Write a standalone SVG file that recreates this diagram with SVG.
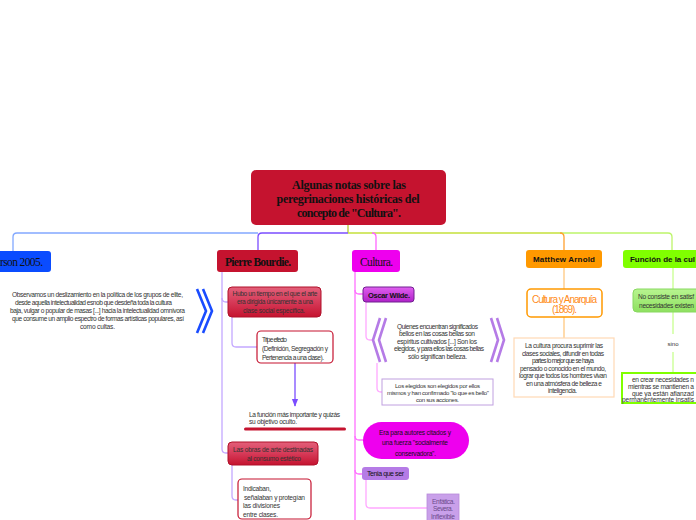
<svg xmlns="http://www.w3.org/2000/svg" width="696" height="520" viewBox="0 0 696 520">
<defs>
<style>
.t{font-family:"Liberation Sans",Arial,sans-serif;font-size:6.6px;fill:#333}
.m{text-anchor:middle}
.s{font-family:"Liberation Serif","DejaVu Serif",serif;fill:#111}
.b{font-family:"Liberation Sans",Arial,sans-serif;font-weight:bold;font-size:8px;fill:#111}
.c{fill:none;stroke-width:1.3}
.chev{fill:none;stroke-width:2.6;stroke-linejoin:miter}
</style>
<linearGradient id="gRed" x1="0" y1="0" x2="0" y2="1">
<stop offset="0" stop-color="#e3607a"/><stop offset="0.5" stop-color="#d63a58"/><stop offset="1" stop-color="#c5132f"/>
</linearGradient>
<linearGradient id="gPur" x1="0" y1="0" x2="0" y2="1">
<stop offset="0" stop-color="#e060f0"/><stop offset="1" stop-color="#b020c8"/>
</linearGradient>
<linearGradient id="gGrn" x1="0" y1="0" x2="0" y2="1">
<stop offset="0" stop-color="#b8f590"/><stop offset="1" stop-color="#8ee060"/>
</linearGradient>
<marker id="arr" viewBox="0 0 10 10" refX="9" refY="5" markerWidth="6" markerHeight="6" orient="auto">
<path d="M0,1 L10,5 L0,9 z" fill="#7b4dff"/>
</marker>
</defs>
<rect width="696" height="520" fill="#ffffff"/>

<g id="connectors">
<path class="c" d="M348,225 V233" stroke="#b5c830"/>
<path class="c" d="M258,233 H17 Q13,233 13,237 V251" stroke="#82a8ff"/>
<path class="c" d="M348,233 H262 Q258,233 258,237 V250" stroke="#7b4dff"/>
<path class="c" d="M348,233 H562" stroke="#c5e03a"/>
<path class="c" d="M560,233 H668 Q672,233 672,237 V250" stroke="#bdf56a"/>
<path class="c" d="M372,233 Q376,233 376,237 V250" stroke="#ff66ff"/>
<path class="c" d="M560,233 Q564,233 564,237 V250" stroke="#ffa030"/>

<path class="c" d="M222,272 V449 Q222,453 226,453 H228" stroke="#c4a8ff"/>
<path class="c" d="M222,298 Q222,302 226,302 H228" stroke="#c4a8ff"/>
<path class="c" d="M232,317 V343 Q232,347 236,347 H257" stroke="#c4a8ff"/>
<path class="c" d="M295,363 V406" stroke="#7b4dff" marker-end="url(#arr)"/>
<path class="c" d="M232,465 V496 Q232,500 236,500 H238" stroke="#c4a8ff"/>

<path class="c" d="M355,272 V520" stroke="#ff70ff"/>
<path class="c" d="M355,290 Q355,294 359,294 H363" stroke="#ff70ff"/>
<path class="c" d="M355,436 Q355,440 359,440 H363" stroke="#ff70ff"/>
<path class="c" d="M355,470 Q355,474 359,474 H362" stroke="#ff70ff"/>
<path class="c" d="M366,302 V336 Q366,340 370,340 H373" stroke="#ffa8ff"/>
<path class="c" d="M377,363 V388 Q377,392 381,392 H382" stroke="#ffa8ff"/>
<path class="c" d="M366,480 V504 Q366,508 370,508 H427" stroke="#ffa8ff"/>

<path class="c" d="M564,268 V289 M564,317 V338" stroke="#ffc880"/>
<path class="c" d="M673,268 V289 M673,312 V334 M673,352 V373" stroke="#c8ff90"/>
</g>

<g id="root">
<rect x="251" y="170" width="195" height="55" rx="5" fill="#c5132f"/>
<text class="s m" style="font-size:12px;font-weight:bold" x="349" y="189" textLength="114">Algunas notas sobre las</text>
<text class="s m" style="font-size:12px;font-weight:bold" x="348" y="203" textLength="143">peregrinaciones históricas del</text>
<text class="s m" style="font-size:12px;font-weight:bold" x="349" y="217" textLength="104">concepto de "Cultura".</text>
</g>

<g id="n-left">
<rect x="-10" y="251" width="61" height="21" rx="3" fill="#0a4cff"/>
<text class="s" style="font-size:11.5px" x="0" y="266" textLength="43">rson 2005.</text>
</g>
<g id="n-left-text">
<text class="t m" x="97.5" y="297" textLength="171">Observamos un deslizamiento en la política de los grupos de elite,</text>
<text class="t m" x="93.5" y="305" textLength="157">desde aquella intelectualidad esnob que desdeña toda la cultura</text>
<text class="t m" x="97.5" y="313" textLength="175">baja, vulgar o popular de masas [...] hacia la intelectualidad omnívora</text>
<text class="t m" x="98" y="321" textLength="172">que consume un amplio espectro de formas artísticas populares, así</text>
<text class="t m" x="97.5" y="329" textLength="35">como cultas.</text>
</g>
<g id="n-left-chev">
<path class="chev" d="M197,289 L206,311 L197,333" stroke="#1a4cff"/>
<path class="chev" d="M203,289 L212,311 L203,333" stroke="#1a4cff"/>
</g>

<g id="n-bourdie">
<rect x="217" y="250" width="81" height="22" rx="3" fill="#c5132f"/>
<text class="s" style="font-size:11.5px;font-weight:bold" x="225" y="266" textLength="66">Pierre Bourdie.</text>
</g>
<g id="n-hubo">
<rect x="228" y="287" width="93" height="30" rx="4" fill="url(#gRed)" stroke="#b0102a" stroke-width="1"/>
<text class="t m" x="275" y="295.5" textLength="85">Hubo un tiempo en el que el arte</text>
<text class="t m" x="275" y="304" textLength="76">era dirigida únicamente a una</text>
<text class="t m" x="274" y="312.5" textLength="62">clase social específica.</text>
</g>
<g id="n-tripe">
<rect x="257" y="331" width="76" height="32" rx="4" fill="#ffffff" stroke="#c5132f" stroke-width="1.2"/>
<text class="t" x="262" y="341.5" textLength="25">Tripe efecto</text>
<text class="t" x="262" y="350.5" textLength="66">(Definición, Segregación y</text>
<text class="t" x="262" y="359.5" textLength="62">Pertenencia a una clase).</text>
</g>
<g id="n-funcion">
<text class="t" x="249" y="416.5" textLength="91">La función más importante y quizás</text>
<text class="t" x="249" y="424" textLength="48">su objetivo oculto.</text>
<rect x="244" y="427.5" width="102" height="3" rx="1.5" fill="#c5132f"/>
</g>
<g id="n-obras">
<rect x="228" y="442" width="90" height="23" rx="4" fill="url(#gRed)" stroke="#b0102a" stroke-width="1"/>
<text class="t m" x="273" y="452" textLength="80">Las obras de arte destinadas</text>
<text class="t m" x="274" y="460.5" textLength="54">al consumo estético</text>
</g>
<g id="n-indicaban">
<rect x="238" y="479" width="73" height="40" rx="4" fill="#ffffff" stroke="#c5132f" stroke-width="1.2"/>
<text class="t" x="243" y="490.5" textLength="28">Indicaban,</text>
<text class="t" x="244" y="499.5" textLength="61">señalaban y protegían</text>
<text class="t" x="243" y="508" textLength="37">las divisiones</text>
<text class="t" x="243" y="516.5" textLength="35">entre clases.</text>
</g>

<g id="n-cultura">
<rect x="352" y="250" width="48" height="22" rx="3" fill="#ee00ee"/>
<text class="s" style="font-size:11.5px" x="360" y="266" textLength="33">Cultura.</text>
</g>
<g id="n-wilde">
<rect x="363" y="287" width="51" height="15" rx="3" fill="url(#gPur)" stroke="#702090" stroke-width="1"/>
<text class="b" style="font-size:7.5px" x="368" y="297.5" textLength="42">Oscar Wilde.</text>
</g>
<g id="n-quote">
<path class="chev" d="M380,318 L373,340 L380,362" stroke="#b57be6"/>
<path class="chev" d="M386,318 L379,340 L386,362" stroke="#b57be6"/>
<path class="chev" d="M491,318 L498,340 L491,362" stroke="#b57be6"/>
<path class="chev" d="M497,318 L504,340 L497,362" stroke="#b57be6"/>
<text class="t m" x="437.5" y="328.5" textLength="81">Quienes encuentran significados</text>
<text class="t m" x="437" y="336" textLength="76">bellos en las cosas bellas son</text>
<text class="t m" x="437" y="343.5" textLength="80">espíritus cultivados [...] Son los</text>
<text class="t m" x="439" y="351" textLength="90">elegidos, y para ellos las cosas bellas</text>
<text class="t m" x="437.5" y="358.5" textLength="59">sólo significan belleza.</text>
</g>
<g id="n-elegidos">
<rect x="382" y="379" width="111" height="26" fill="#ffffff" stroke="#c0a0e0" stroke-width="1"/>
<text class="t m" style="font-size:6px" x="437.5" y="388" textLength="85">Los elegidos son elegidos por ellos</text>
<text class="t m" style="font-size:6px" x="438" y="395" textLength="102">mismos y han confirmado "lo que es bello"</text>
<text class="t m" style="font-size:6px" x="437.5" y="402" textLength="43">con sus acciones.</text>
</g>
<g id="n-era">
<rect x="363" y="422" width="106" height="37" rx="18.5" fill="#ee00ee"/>
<text class="t m" style="fill:#111" x="415" y="434.5" textLength="72">Era para autores citados y</text>
<text class="t m" style="fill:#111" x="415" y="444.5" textLength="66">una fuerza "socialmente</text>
<text class="t m" style="fill:#111" x="415.5" y="455.5" textLength="41">conservadora".</text>
</g>
<g id="n-tenia">
<rect x="362" y="467" width="47" height="13" rx="3" fill="#b57be6"/>
<text class="t" style="fill:#111;font-size:7px" x="367" y="475.5" textLength="37">Tenia que ser</text>
</g>
<g id="n-enfatica">
<rect x="427" y="494" width="32" height="30" fill="#c9a0ea" stroke="#b88ada" stroke-width="0.8"/>
<text class="t m" style="fill:#6a4a8a" x="443.5" y="503.5" textLength="23">Enfática.</text>
<text class="t m" style="fill:#6a4a8a" x="443" y="510.5" textLength="20">Severa.</text>
<text class="t m" style="fill:#6a4a8a" x="443" y="518.5" textLength="24">Inflexible</text>
</g>

<g id="n-arnold">
<rect x="526" y="250" width="76" height="18" rx="3" fill="#ff9900"/>
<text class="b" x="533" y="262" textLength="62">Matthew Arnold</text>
</g>
<g id="n-anarquia">
<rect x="527" y="289" width="75" height="28" rx="4" fill="#ffffff" stroke="#ff9900" stroke-width="1.5"/>
<text class="t m" style="font-size:10px;fill:#ff8c1a" x="564.5" y="302.5" textLength="65">Cultura y Anarquía</text>
<text class="t m" style="font-size:10px;fill:#ff8c1a" x="564.5" y="313" textLength="25">(1869).</text>
</g>
<g id="n-arnold-text">
<rect x="514" y="338" width="100" height="59" fill="#ffffff" stroke="#ffd9b5" stroke-width="1.2"/>
<text class="t m" x="564" y="348" textLength="78">La cultura procura suprimir las</text>
<text class="t m" x="563" y="355.5" textLength="82">clases sociales, difundir en todas</text>
<text class="t m" x="563" y="363" textLength="62">partes lo mejor que se haya</text>
<text class="t m" x="563" y="370.5" textLength="86">pensado o conocido en el mundo,</text>
<text class="t m" x="563" y="378" textLength="88">lograr que todos los hombres vivan</text>
<text class="t m" x="564" y="385.5" textLength="76">en una atmósfera de belleza e</text>
<text class="t m" x="562.5" y="393" textLength="29">inteligencia.</text>
</g>

<g id="n-funcion-cultura">
<rect x="623" y="250" width="85" height="18" rx="3" fill="#80ff00"/>
<text class="b" x="630" y="262" textLength="65">Función de la cul</text>
</g>
<g id="n-noconsiste">
<rect x="633" y="289" width="70" height="23" rx="4" fill="url(#gGrn)" stroke="#88d860" stroke-width="1"/>
<text class="t" x="638" y="299" textLength="56">No consiste en satisf</text>
<text class="t" x="639" y="308" textLength="55">necesidades existen</text>
</g>
<g id="n-sino">
<text class="t m" style="font-size:6px" x="673" y="345.5">sino</text>
</g>
<g id="n-encrear">
<rect x="622" y="373" width="84" height="30" fill="#ffffff" stroke="#80ff00" stroke-width="2"/>
<text class="t" x="632" y="382" textLength="62">en crear necesidades n</text>
<text class="t" x="628" y="389" textLength="66">mientras se mantienen a</text>
<text class="t" x="632" y="395.5" textLength="62">que ya están afianzad</text>
<text class="t" x="622" y="401.5" textLength="72">permanentemente insatis</text>
</g>
</svg>
